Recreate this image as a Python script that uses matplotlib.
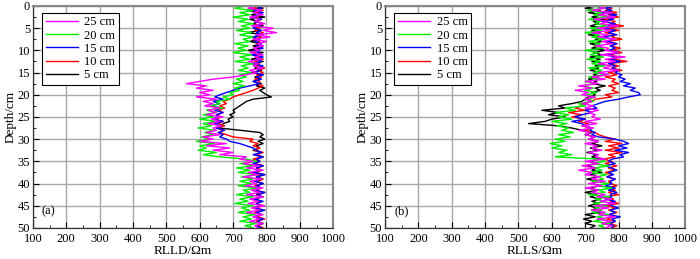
import numpy as np
import matplotlib
matplotlib.use('Agg')
from matplotlib import pyplot as plt
from matplotlib.ticker import MultipleLocator

plt.rcParams['font.family'] = ['Liberation Serif', 'DejaVu Serif']

depth = np.arange(0, 50.5, 0.5)
labels = ['25 cm', '20 cm', '15 cm', '10 cm', '5 cm']
colors = ['#ff00ff', '#00ee00', '#0000ff', '#ff0000', '#000000']

# RLLD (panel a)
rlld_25 = [770, 745, 785, 760, 790, 750, 780, 765, 795, 755,
           820, 790, 830, 770, 810, 760, 800, 775, 790, 760,
           780, 750, 790, 765, 785, 745, 775, 760, 790, 750,
           770, 740, 700, 640, 600, 560, 620, 590, 640, 600,
           630, 590, 650, 610, 640, 615, 660, 625, 650, 620,
           670, 635, 660, 625, 665, 640, 650, 620, 660, 610,
           640, 600, 680, 620, 690, 640, 700, 660, 740, 720,
           760, 730, 780, 740, 790, 745, 775, 730, 785, 750,
           770, 735, 790, 755, 780, 740, 790, 750, 775, 745,
           795, 755, 780, 740, 790, 760, 780, 750, 790, 765, 775]
rlld_20 = [740, 705, 760, 720, 750, 700, 745, 715, 760, 725,
           750, 710, 755, 720, 760, 730, 750, 705, 745, 715,
           740, 700, 755, 720, 750, 705, 760, 725, 745, 715,
           755, 720, 740, 710, 730, 700, 735, 705, 720, 690,
           700, 670, 690, 650, 660, 630, 670, 620, 650, 610,
           640, 600, 650, 610, 635, 595, 645, 615, 640, 605,
           630, 590, 645, 600, 620, 595, 650, 610, 660, 740,
           770, 720, 760, 710, 750, 715, 770, 725, 760, 720,
           755, 715, 770, 730, 750, 710, 760, 720, 745, 705,
           760, 725, 750, 715, 765, 730, 755, 720, 770, 735, 760]
rlld_15 = [770, 785, 760, 790, 775, 755, 785, 765, 790, 770,
           760, 785, 770, 790, 755, 780, 765, 785, 770, 790,
           765, 780, 755, 790, 770, 785, 760, 790, 775, 780,
           765, 790, 770, 785, 760, 780, 750, 720, 700, 680,
           660, 645, 670, 640, 660, 635, 665, 645, 670, 650,
           655, 640, 670, 645, 665, 650, 675, 655, 670, 660,
           680, 690, 720, 740, 760, 770, 785, 760, 790, 770,
           780, 760, 790, 770, 775, 760, 795, 770, 785, 765,
           790, 770, 780, 760, 795, 775, 785, 760, 790, 770,
           780, 765, 795, 770, 785, 760, 790, 775, 780, 770, 785]
rlld_10 = [775, 760, 790, 770, 780, 765, 785, 770, 790, 760,
           780, 765, 790, 775, 785, 760, 780, 770, 790, 765,
           775, 760, 785, 770, 790, 765, 780, 770, 795, 775,
           790, 770, 785, 765, 780, 770, 790, 775, 760, 740,
           720, 700, 690, 670, 680, 660, 675, 655, 670, 650,
           665, 645, 670, 655, 675, 650, 670, 660, 680, 700,
           760, 750, 775, 760, 780, 765, 790, 770, 785, 760,
           780, 765, 790, 770, 785, 760, 780, 770, 790, 775,
           785, 765, 780, 770, 795, 775, 785, 760, 780, 770,
           790, 770, 785, 765, 780, 775, 795, 770, 785, 775, 790]
rlld_5 = [760, 790, 745, 780, 755, 795, 750, 775, 760, 790,
          765, 780, 745, 790, 760, 775, 750, 785, 760, 780,
          745, 790, 760, 780, 755, 790, 760, 775, 765, 785,
          755, 790, 765, 780, 760, 785, 770, 795, 780, 790,
          800, 815, 760, 740, 730, 720, 710, 700, 705, 690,
          700, 685, 690, 670, 665, 660, 720, 780, 790, 780,
          795, 775, 790, 770, 780, 760, 785, 765, 790, 770,
          780, 760, 790, 770, 785, 765, 795, 770, 780, 765,
          790, 770, 785, 760, 780, 770, 790, 765, 785, 770,
          780, 760, 790, 770, 785, 765, 780, 770, 790, 775, 785]

# RLLS (panel b)
rlls_25 = [730, 760, 720, 780, 740, 790, 725, 770, 745, 800,
           735, 780, 720, 770, 740, 790, 750, 780, 730, 770,
           760, 800, 745, 820, 760, 790, 740, 780, 755, 800,
           740, 770, 720, 760, 700, 740, 680, 720, 670, 710,
           690, 730, 700, 720, 690, 725, 700, 740, 710, 730,
           720, 745, 700, 735, 690, 725, 680, 715, 700, 730,
           710, 740, 700, 735, 720, 750, 710, 740, 730, 760,
           700, 740, 690, 730, 680, 720, 700, 745, 720, 760,
           710, 750, 700, 740, 720, 760, 735, 780, 745, 790,
           730, 770, 720, 760, 740, 790, 735, 775, 750, 780, 760]
rlls_20 = [720, 760, 705, 750, 725, 770, 710, 745, 730, 765,
           715, 750, 700, 740, 720, 760, 710, 745, 725, 755,
           700, 740, 715, 755, 705, 745, 720, 760, 710, 750,
           725, 765, 710, 740, 700, 730, 690, 725, 700, 735,
           705, 730, 710, 725, 680, 700, 640, 670, 610, 650,
           620, 660, 600, 645, 615, 650, 630, 665, 620, 655,
           610, 640, 595, 630, 600, 645, 620, 660, 610, 740,
           760, 720, 770, 730, 750, 715, 765, 735, 755, 720,
           770, 735, 780, 740, 760, 710, 775, 730, 760, 725,
           765, 730, 750, 720, 770, 735, 760, 725, 775, 740, 760]
rlls_15 = [790, 760, 780, 740, 795, 765, 785, 750, 790, 770,
           760, 790, 770, 795, 750, 785, 765, 795, 775, 790,
           770, 800, 760, 790, 775, 805, 770, 790, 780, 800,
           790, 810, 800, 820, 805, 835, 815, 850, 835, 860,
           865, 830, 800, 760, 740, 720, 735, 700, 720, 690,
           670, 700, 660, 690, 700, 720, 715, 730, 720, 740,
           790, 815, 830, 800, 825, 790, 830, 805, 815, 780,
           770, 790, 760, 780, 795, 770, 785, 765, 790, 775,
           780, 760, 790, 770, 795, 775, 780, 760, 790, 770,
           780, 800, 775, 790, 770, 805, 780, 790, 770, 785, 780]
rlls_10 = [750, 780, 760, 795, 770, 800, 760, 790, 775, 815,
           770, 800, 760, 790, 780, 810, 765, 795, 775, 805,
           780, 810, 770, 800, 785, 825, 770, 800, 780, 810,
           770, 795, 760, 790, 780, 800, 770, 790, 780, 800,
           760, 780, 730, 720, 700, 690, 670, 700, 650, 690,
           660, 700, 680, 710, 690, 720, 700, 730, 740, 760,
           790, 760, 810, 770, 800, 760, 810, 770, 790, 755,
           780, 760, 795, 770, 790, 760, 780, 765, 790, 770,
           775, 795, 765, 790, 770, 800, 760, 785, 775, 800,
           765, 790, 770, 795, 775, 785, 765, 790, 775, 795, 780]
rlls_5 = [735, 700, 745, 710, 750, 720, 760, 725, 740, 715,
          755, 720, 745, 710, 760, 730, 750, 715, 745, 720,
          760, 725, 750, 715, 745, 720, 755, 730, 740, 715,
          750, 725, 740, 710, 735, 720, 760, 730, 745, 720,
          730, 710, 700, 690, 660, 620, 640, 570, 620, 590,
          640, 600, 580, 530, 620, 660, 690, 720, 700, 730,
          710, 740, 720, 750, 715, 740, 705, 735, 720, 745,
          710, 740, 700, 735, 720, 750, 715, 740, 705, 735,
          720, 745, 710, 740, 700, 735, 715, 745, 720, 740,
          710, 735, 720, 745, 700, 730, 695, 720, 700, 730, 715]

panels = [
    ([rlld_25, rlld_20, rlld_15, rlld_10, rlld_5], 'RLLD/Ωm', '(a)'),
    ([rlls_25, rlls_20, rlls_15, rlls_10, rlls_5], 'RLLS/Ωm', '(b)'),
]

fig = plt.figure(figsize=(7, 2.59), dpi=100)
positions = [[0.047, 0.12, 0.429, 0.857], [0.55, 0.12, 0.429, 0.857]]

for pos, (series, xlabel, tag) in zip(positions, panels):
    ax = fig.add_axes(pos)
    handles = []
    # draw 5 cm first so 25 cm sits on top, legend keeps 25 -> 5 order
    for vals, lab, col in reversed(list(zip(series, labels, colors))):
        line, = ax.plot(vals, depth, color=col, lw=1.0, label=lab)
        handles.insert(0, line)
    ax.set_xlim(100, 1000)
    ax.set_ylim(50, 0)
    ax.xaxis.set_major_locator(MultipleLocator(100))
    ax.xaxis.set_minor_locator(MultipleLocator(50))
    ax.yaxis.set_major_locator(MultipleLocator(5))
    ax.yaxis.set_minor_locator(MultipleLocator(2.5))
    ax.tick_params(which='both', direction='in', labelsize=9, top=False, right=False)
    ax.tick_params(axis='x', pad=4)
    ax.tick_params(axis='y', pad=2)
    ax.tick_params(which='major', length=4)
    ax.tick_params(which='minor', length=2.5)
    ax.grid(True, which='major', color='#a8a8a8', lw=1.0)
    ax.set_axisbelow(True)
    for side in ['top', 'right']:
        ax.spines[side].set_color('#888888')
        ax.spines[side].set_linewidth(1.5)
    for side in ['left', 'bottom']:
        ax.spines[side].set_color('#333333')
        ax.spines[side].set_linewidth(0.9)
    ax.set_xlabel(xlabel, fontsize=9.5, labelpad=0)
    ax.set_ylabel('Depth/cm', fontsize=9.5, labelpad=1)
    ax.text(0.03, 0.06, tag, transform=ax.transAxes, fontsize=9)
    leg = ax.legend(handles=handles, loc='upper left', bbox_to_anchor=(0.03, 0.97),
                    fontsize=9, fancybox=False, framealpha=1, edgecolor='black',
                    handlelength=2.6, handletextpad=0.5, borderpad=0.3,
                    labelspacing=0.1, borderaxespad=0)
    leg.get_frame().set_linewidth(0.8)

plt.savefig('out.png', dpi=100)
